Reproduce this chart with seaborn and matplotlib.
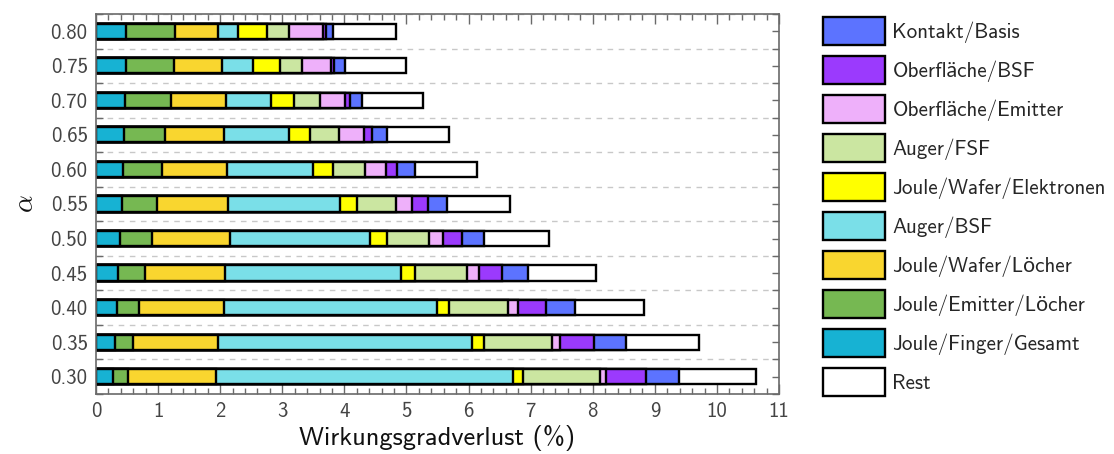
import numpy as np
import pandas as pd
import matplotlib
matplotlib.use("Agg")
import matplotlib.pyplot as plt
from matplotlib.ticker import MultipleLocator, FixedLocator
import seaborn as sns

# alpha values (bottom to top)
alpha_labels = ["0.30", "0.35", "0.40", "0.45", "0.50", "0.55",
                "0.60", "0.65", "0.70", "0.75", "0.80"]

# efficiency losses in % per mechanism, one value per alpha
joule_finger   = [0.28, 0.31, 0.34, 0.36, 0.39, 0.42, 0.44, 0.45, 0.47, 0.48, 0.48]
joule_emitter  = [0.23, 0.29, 0.36, 0.43, 0.51, 0.56, 0.62, 0.66, 0.73, 0.77, 0.79]
joule_wafer_h  = [1.43, 1.37, 1.36, 1.28, 1.25, 1.15, 1.05, 0.95, 0.89, 0.78, 0.70]
auger_bsf      = [4.78, 4.09, 3.43, 2.84, 2.26, 1.80, 1.38, 1.05, 0.72, 0.50, 0.31]
joule_wafer_e  = [0.16, 0.19, 0.20, 0.23, 0.27, 0.28, 0.32, 0.34, 0.38, 0.43, 0.48]
auger_fsf      = [1.24, 1.09, 0.94, 0.83, 0.69, 0.62, 0.53, 0.47, 0.42, 0.36, 0.35]
surf_emitter   = [0.09, 0.14, 0.16, 0.20, 0.22, 0.26, 0.33, 0.40, 0.40, 0.47, 0.55]
surf_bsf       = [0.64, 0.54, 0.46, 0.37, 0.31, 0.25, 0.17, 0.12, 0.08, 0.05, 0.04]
contact_base   = [0.54, 0.51, 0.46, 0.42, 0.35, 0.32, 0.29, 0.25, 0.19, 0.17, 0.11]
rest           = [1.24, 1.18, 1.11, 1.09, 1.05, 1.01, 1.01, 1.00, 0.98, 0.98, 1.02]

# stacking order from the axis outward
series_names = ["Joule/Finger/Gesamt", "Joule/Emitter/Löcher", "Joule/Wafer/Löcher",
                "Auger/BSF", "Joule/Wafer/Elektronen", "Auger/FSF",
                "Oberfläche/Emitter", "Oberfläche/BSF", "Kontakt/Basis", "Rest"]
series_values = [joule_finger, joule_emitter, joule_wafer_h, auger_bsf, joule_wafer_e,
                 auger_fsf, surf_emitter, surf_bsf, contact_base, rest]
series_colors = ["#17b2d3", "#76b852", "#f9d62f", "#7adfe8", "#ffff00",
                 "#cbe6a1", "#eeb0fa", "#9b3afd", "#5c73ff", "#ffffff"]

df = pd.DataFrame(dict(zip(series_names, series_values)), index=alpha_labels)
cum = df.cumsum(axis=1)

sns.set_theme(style="ticks")
plt.rcParams["font.family"] = ["cmss10", "Lato"]
plt.rcParams["mathtext.fontset"] = "cm"
plt.rcParams["axes.unicode_minus"] = False

fig = plt.figure(figsize=(11.14, 4.54), dpi=100)
ax = fig.add_axes([0.0862, 0.1322, 0.6131, 0.837])

order = alpha_labels[::-1]
# draw cumulative totals from the outermost segment inward so the stack builds up
for name, color in zip(series_names[::-1], series_colors[::-1]):
    sns.barplot(x=cum[name].values, y=alpha_labels, order=order, orient="y",
                color=color, saturation=1, edgecolor="black", linewidth=1.7,
                width=0.44, label=name, ax=ax, errorbar=None)

handles, labels = ax.get_legend_handles_labels()
if ax.get_legend() is not None:
    ax.get_legend().remove()

ax.set_xlim(0, 11)
ax.set_ylim(10.5, -0.5)
ax.xaxis.set_major_locator(MultipleLocator(1))
ax.xaxis.set_minor_locator(MultipleLocator(0.2))
ax.yaxis.set_minor_locator(FixedLocator(np.arange(-0.5, 11, 1.0)))
ax.grid(axis="y", which="minor", linestyle=(0, (4, 4)), color="#c8c8c8", linewidth=1)
ax.grid(axis="y", which="major", visible=False)
ax.set_axisbelow(True)

spine_col = "#6a6a6a"
for s in ax.spines.values():
    s.set_color(spine_col)
    s.set_linewidth(1.2)
    s.set_visible(True)
ax.tick_params(which="both", direction="in", top=True, right=True,
               color=spine_col, width=1.0, labelsize=15, labelcolor="#444444")
ax.tick_params(axis="x", which="major", length=7, pad=6)
ax.tick_params(axis="x", which="minor", length=4)
ax.tick_params(axis="y", which="both", length=5, pad=6)

ax.set_xlabel("Wirkungsgradverlust (%)", fontsize=19, labelpad=3, color="#111111")
ax.set_ylabel(r"$\alpha$", fontsize=20, labelpad=9, color="#111111")

lookup = dict(zip(labels, handles))
leg_order = series_names[:-1][::-1] + ["Rest"]
fig.legend([lookup[n] for n in leg_order], leg_order, loc="upper left",
           bbox_to_anchor=(823 / 1114, 1 - 17 / 454), frameon=False,
           fontsize=15.2, handlelength=2.94, handleheight=1.665, handletextpad=0.35,
           labelspacing=0.52, borderpad=0, borderaxespad=0)

fig.savefig("out.png", dpi=100)
